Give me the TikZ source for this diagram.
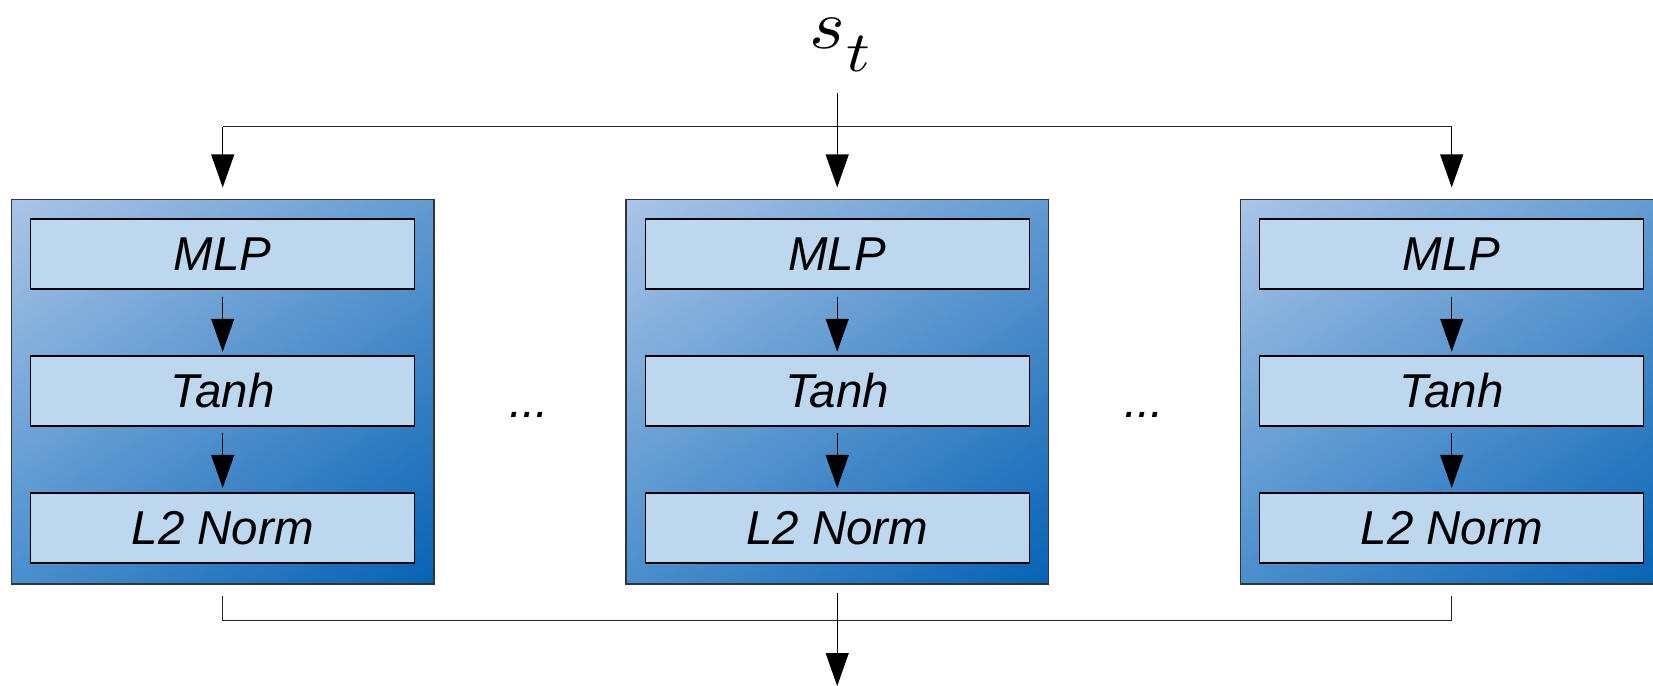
\documentclass[tikz,border=0pt]{standalone}
\usepackage{graphicx}
\usepackage{fontspec}
\setmainfont{Liberation Sans}
\usetikzlibrary{arrows.meta,shadings}
\definecolor{cornerUL}{RGB}{170,197,231}
\definecolor{cornerUR}{RGB}{98,154,209}
\definecolor{cornerLL}{RGB}{74,142,205}
\definecolor{cornerLR}{RGB}{6,99,180}
\definecolor{stagefill}{RGB}{189,215,238}
\begin{document}
\begin{tikzpicture}[x=1pt,y=-1pt,
  block/.style={draw=black!80, line width=1.1pt, inner sep=0pt,
    minimum width=422.5pt, minimum height=384.5pt,
    upper left=cornerUL, upper right=cornerUR,
    lower left=cornerLL, lower right=cornerLR},
  stage/.style={draw=black, line width=1.1pt, fill=stagefill, inner sep=0pt,
    minimum width=384pt, minimum height=70pt,
    font=\itshape\fontsize{47.5}{57}\selectfont},
  wire/.style={draw=black!85, line width=1.1pt},
  flow/.style={draw=black, line width=1.1pt, -{Triangle[length=33pt,width=23pt]}},
  dots/.style={font=\itshape\fontsize{47.5}{57}\selectfont, inner sep=0pt, anchor=base}]
  \useasboundingbox (0,0) rectangle (1653,685);

  % three parallel branches: MLP -> Tanh -> L2 Norm
  \foreach \i/\x in {1/222.7, 2/837.2, 3/1451.7} {
    \node[block] (b\i) at (\x,391.75) {};
    \node[stage] (m\i) at (\x,254) {MLP};
    \node[stage] (t\i) at (\x,391) {Tanh};
    \node[stage] (n\i) at (\x,528) {L2 Norm};
    \draw[flow, shorten <=7pt, shorten >=3.7pt] (m\i.south) -- (t\i.north);
    \draw[flow, shorten <=6pt, shorten >=4.5pt] (t\i.south) -- (n\i.north);
  }

  % elided branches
  \node[dots] (d1) at (529,417.7) {...};
  \node[dots] (d2) at (1144,417.7) {...};

  % input
  \node[anchor=base west, inner sep=0pt] (st) at (809,48.5)
    {\scalebox{7.6}[7.0]{$s$}\kern2pt\raisebox{-23pt}{\scalebox{6.6}[5.7]{$t$}}};

  % input fan-out
  \coordinate (sin) at (837.2,93);
  \coordinate (j1) at (222.7,126.7);
  \coordinate (j3) at (1451.7,126.7);
  \draw[wire] (j1) -- (j3);
  \draw[flow, shorten >=11.5pt] (sin) -- (b2.north);
  \draw[flow, shorten >=11.5pt] (j1) -- (b1.north);
  \draw[flow, shorten >=11.5pt] (j3) -- (b3.north);

  % output merge
  \coordinate (k1) at (222.7,620.5);
  \coordinate (k3) at (1451.7,620.5);
  \coordinate (out) at (837.2,686);
  \draw[wire, shorten <=11.5pt, shorten >=11.5pt] (b1.south) -- (k1) -- (k3) -- (b3.south);
  \draw[flow, shorten <=8pt] (b2.south) -- (out);
\end{tikzpicture}
\end{document}
